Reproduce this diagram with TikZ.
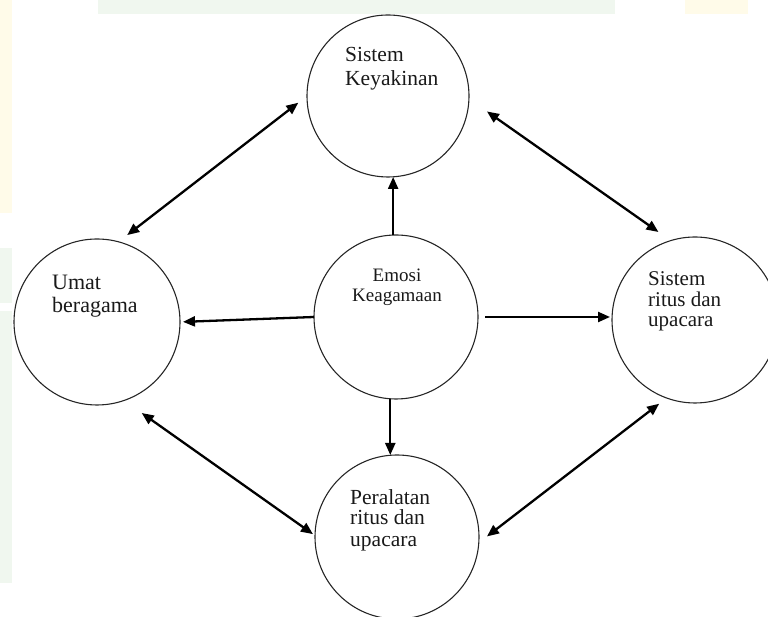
\documentclass[tikz,border=0pt]{standalone}
\usepackage{fontspec}
\setmainfont{Liberation Serif}
\usetikzlibrary{arrows.meta}
\definecolor{wmgreen}{HTML}{F0F7EF}
\definecolor{wmyellow}{HTML}{FFFBE9}
\begin{document}
\begin{tikzpicture}[x=1pt,y=1pt,
  circ/.style={circle,draw=black!85,line width=1.1pt,inner sep=0pt,outer sep=0pt},
  lbl/.style={inner sep=0pt,anchor=base west,text=black!90,font=\fontsize{21.5}{24}\selectfont},
  clbl/.style={inner sep=0pt,anchor=base,text=black!90,font=\fontsize{19}{22}\selectfont},
  conn/.style={line width=2.3pt,-{Triangle[length=12pt,width=10pt]}},
  dconn/.style={line width=2.3pt,{Triangle[length=12pt,width=10pt]}-{Triangle[length=12pt,width=10pt]}}]
\clip (0,0) rectangle (768,617);
% faint watermark
\fill[wmgreen] (98,603) rectangle (615,617);
\fill[wmyellow] (685,603) rectangle (748,617);
\fill[wmyellow] (0,404) rectangle (12,617);
\fill[wmgreen] (0,314) rectangle (12,369);
\fill[wmgreen] (0,34) rectangle (12,306);
% circles
\node[circ,minimum size=162pt] (T) at (388,521) {};
\node[circ,minimum size=164pt] (C) at (396,300) {};
\node[circ,minimum size=166pt] (L) at (97,295) {};
\node[circ,minimum size=166pt] (R) at (695,297) {};
\node[circ,minimum size=164pt] (B) at (397,80) {};
% texts
\node[lbl] (t1) at (345,555) {Sistem};
\node[lbl] (t2) at (345,531) {Keyakinan};
\node[clbl] (c1) at (397,335) {Emosi};
\node[clbl] (c2) at (397,315) {Keagamaan};
\node[lbl,font=\fontsize{22}{24}\selectfont] (l1) at (52,327) {Umat};
\node[lbl,font=\fontsize{22}{24}\selectfont] (l2) at (52,304) {beragama};
\node[lbl,font=\fontsize{21}{24}\selectfont] (r1) at (648,331) {Sistem};
\node[lbl,font=\fontsize{21}{24}\selectfont] (r2) at (648,310.5) {ritus dan};
\node[lbl,font=\fontsize{21}{24}\selectfont] (r3) at (648,290) {upacara};
\node[lbl] (b1) at (350,112) {Peralatan};
\node[lbl] (b2) at (350,92) {ritus dan};
\node[lbl] (b3) at (350,70) {upacara};
% connectors from the centre
\draw[conn] (C.92) -- (C.92 |- T.south);
\draw[conn,shorten >=3pt] (C.west) -- (L.east);
\draw[conn,shorten <=7pt,shorten >=2pt] (C.east) -- (C.east -| R.west);
\draw[conn] (C.266) -- (C.266 |- B.north);
% double-headed connectors
\draw[dconn,shorten <=11pt,shorten >=11pt] (L.75.2) -- (T.180);
\draw[dconn,shorten <=22pt,shorten >=15pt] (T.358.4) -- (R.107.2);
\draw[dconn,shorten <=21.7pt,shorten >=2.5pt] (L.289.2) -- (B.179.6);
\draw[dconn,shorten <=10.3pt,shorten >=9.4pt] (B.356.4) -- (R.250.6);
\end{tikzpicture}
\end{document}
